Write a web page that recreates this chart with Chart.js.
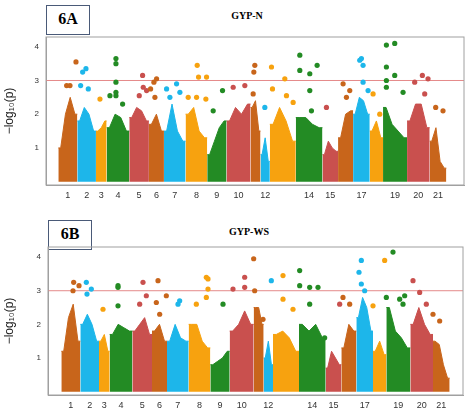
<!DOCTYPE html>
<html><head><meta charset="utf-8">
<script src="https://cdn.jsdelivr.net/npm/chart.js@4.4.0/dist/chart.umd.min.js"></script>
<style>
body{margin:0;background:#fff;width:474px;height:417px;position:relative;overflow:hidden;font-family:"Liberation Serif",serif}
.box{position:absolute;border:1.5px solid #4a5a78;font-weight:bold;font-size:16px;text-align:center;box-sizing:border-box;line-height:26px}
.ttl{position:absolute;font-weight:bold;font-size:10px;width:474px;text-align:center}
.pane{position:absolute;left:0;width:474px;height:175px}
</style></head><body>
<div class="box" style="left:46px;top:5px;width:44px;height:30px">6A</div>
<div class="ttl" style="left:10px;top:10px">GYP-N</div>
<div class="box" style="left:48px;top:220px;width:44px;height:30px">6B</div>
<div class="ttl" style="left:12px;top:226px">GYP-WS</div>
<div class="pane" style="top:28px"><canvas id="a"></canvas></div>
<div class="pane" style="top:238px"><canvas id="b"></canvas></div>
<script>
// chromosome boundaries (genomic units)
const chrStarts = [175,232,288,320,388,447,492,557,622,680,752,782,810,888,968,1015,1060,1110,1150,1222,1290];
const chrEnd = 1340;
const chrNames = ["1","2","3","4","5","6","7","8","9","10","11","12","13","14","15","16","17","18","19","20","21"];
const shownLabels = ["1","2","3","4","5","6","7","8","9","10","12","14","15","17","19","20","21"];
const palette = ["#C8651B","#1DB6EA","#F7A20F","#238B24","#C9504E"];
const colorCycle = [0,1,2,3,4,0,1,2,3,4,0,1,2,3,4,0,1,2,3,4,0];
// dense band envelope heights per chromosome
const envA = [[1.0,2.0,2.5,2.0],[1.8,2.2,2.0,1.5],[1.5,1.6,1.8],[1.6,2.0,1.9,1.5],[1.9,2.2,2.1,1.8],[1.7,2.0,1.5],[1.5,2.3,1.5,1.2],[2.0,2.2,1.5,1.3],[0.8,1.2,1.6,1.8],[1.8,2.2,2.0,2.3],[2.2,2.4,1.5],[0.8,1.3,0.6],[1.7,2.2,1.8,1.2],[1.9,1.9,1.7,1.6],[0.8,1.2,1.0,0.9],[1.3,2.0,2.1],[2.0,2.5,2.4,2.0],[1.5,1.8,1.3],[2.2,1.7,1.5,1.3],[1.8,2.3,2.3,1.6],[1.2,1.6,0.6,0.4]];
const envB = [[1.2,2.2,2.6,1.5],[2.0,2.3,2.0,1.5],[1.5,1.7,1.2],[1.7,2.0,1.9,1.8],[1.8,2.0,2.2,1.7],[1.8,2.0,1.5],[1.5,2.0,1.6,1.5],[2.0,2.0,1.5,1.3],[0.8,0.9,1.0,1.2],[1.8,2.0,2.4,2.0],[2.5,2.5,2.0],[1.0,1.5,0.8],[1.7,1.8,1.6,1.2],[2.0,1.8,2.0,1.6],[0.7,1.2,1.0,0.8],[1.3,2.0,1.8],[2.2,2.8,2.5,1.8],[1.2,1.5,1.1],[2.5,1.8,1.6,1.3],[2.0,2.5,2.0,1.7],[1.5,1.4,0.8,0.4]];
// upper SNPs [position, -log10 p]
const snpA = [[200,2.85],[210,2.85],[228,3.55],[248,3.25],[258,3.35],[242,2.85],[265,2.75],[300,2.45],[330,2.55],[348,3.65],[348,3.5],[348,2.95],[348,2.65],[348,2.55],[368,2.3],[418,2.55],[428,3.15],[430,2.8],[440,2.7],[452,2.75],[462,2.95],[470,3.05],[465,2.5],[500,2.75],[530,2.9],[510,2.5],[540,2.65],[565,2.5],[592,3.45],[596,3.1],[620,3.1],[590,2.5],[618,2.45],[640,2.1],[668,2.7],[700,2.8],[735,2.85],[760,2.6],[762,3.25],[765,3.45],[795,2.2],[815,3.4],[818,2.75],[855,3.05],[860,2.55],[880,2.35],[900,3.75],[900,3.3],[930,3.2],[930,2.7],[952,3.45],[935,2.1],[980,2.2],[1030,2.9],[1040,2.5],[1050,2.7],[1085,3.65],[1080,3.6],[1090,3.45],[1090,2.95],[1105,2.7],[1120,2.6],[1140,2.0],[1160,4.05],[1185,4.1],[1160,3.4],[1185,3.15],[1160,3.0],[1160,2.8],[1210,2.65],[1245,2.95],[1268,3.15],[1285,3.05],[1275,2.6],[1308,2.2],[1330,2.1]];
const snpB = [[212,3.25],[228,3.15],[210,3.0],[250,3.25],[265,3.05],[252,2.9],[300,2.45],[345,3.15],[345,3.1],[345,2.55],[420,3.25],[430,2.85],[410,2.6],[465,3.3],[460,2.65],[470,2.3],[490,2.85],[530,2.7],[525,2.6],[580,2.6],[610,3.4],[615,3.35],[615,3.05],[610,2.8],[660,2.6],[690,3.05],[725,3.4],[725,3.1],[755,3.0],[752,3.95],[780,2.15],[805,3.3],[840,3.45],[840,2.75],[870,2.45],[890,3.6],[890,3.15],[920,3.1],[945,3.1],[920,2.6],[965,1.6],[1010,2.6],[1020,2.8],[1040,2.6],[1075,3.9],[1068,3.55],[1075,3.2],[1085,3.0],[1110,2.55],[1145,3.9],[1170,4.15],[1150,2.8],[1190,2.75],[1200,2.6],[1205,2.85],[1230,3.3],[1250,2.95],[1270,2.6],[1290,2.3],[1310,2.1]];
const yTicks = [1,2,3,4];
const threshold = 3;

function chrOf(x){let i=0;for(let k=0;k<chrStarts.length;k++){if(x>=chrStarts[k])i=k;}return i;}
function make(id, env, snps, xmin, xmax, ymax, yW, rPad){
  const ds=[];
  env.forEach((h,i)=>{
    const s=chrStarts[i], e=i<20?chrStarts[i+1]:chrEnd, L=e-s;
    const pts=[{x:s,y:h[0]}];
    h.forEach((v,j)=>pts.push({x:s+(j+0.5)/h.length*L,y:v}));
    pts.push({x:e,y:h[h.length-1]});
    const c=palette[colorCycle[i]];
    ds.push({type:'line',data:pts,borderColor:c,backgroundColor:c,fill:'origin',pointRadius:0,borderWidth:1,tension:0});
  });
  ds.push({type:'scatter',data:snps.map(p=>({x:p[0],y:p[1]})),pointRadius:2.6,borderWidth:0,
    backgroundColor:snps.map(p=>palette[colorCycle[chrOf(p[0])]])});
  ds.push({type:'line',data:[{x:xmin,y:threshold},{x:xmax,y:threshold}],borderColor:'#E58A8A',borderWidth:1,pointRadius:0,fill:false});
  const centers=chrStarts.map((s,i)=>(s+(i<20?chrStarts[i+1]:chrEnd))/2);
  new Chart(document.getElementById(id),{
    data:{datasets:ds},
    options:{responsive:true,maintainAspectRatio:false,animation:false,
      layout:{padding:{top:9,right:rPad,bottom:0,left:0}},
      plugins:{legend:{display:false},tooltip:{enabled:false}},
      scales:{
        x:{type:'linear',min:xmin,max:xmax,grid:{display:false,drawTicks:false},border:{color:'#a0a0a0',width:1},
          afterBuildTicks:ax=>{ax.ticks=centers.map((v,i)=>({value:v,label:chrNames[i]})).filter(t=>shownLabels.includes(t.label));},
          afterFit:ax=>{ax.height=18;},
          ticks:{autoSkip:false,maxRotation:0,font:{size:9,family:'Liberation Sans'},color:'#333',padding:5,callback:function(v){const i=centers.indexOf(v);return i>=0?chrNames[i]:'';}}},
        y:{min:-0.1,max:ymax,grid:{display:false,drawTicks:true,tickLength:3},border:{color:'#a0a0a0',width:1},
          afterBuildTicks:ax=>{ax.ticks=yTicks.map(v=>({value:v}));},
          afterFit:ax=>{ax.width=yW;},
          ticks:{font:{size:8,family:'Liberation Sans'},color:'#333',padding:4},
          title:{display:true,text:'−log₁₀(p)',font:{size:12,family:'Liberation Sans'},color:'#222',padding:2}},
      }
    },
    plugins:[{id:'frame',afterDraw(c){const a=c.chartArea,g=c.ctx;g.save();g.strokeStyle='#a0a0a0';g.lineWidth=1;g.strokeRect(a.left,a.top,a.right-a.left,a.bottom-a.top);g.restore();}}]
  });
}
make('a',envA,snpA,138,1393,4.29,46,10);
make('b',envB,snpB,135,1380,4.3,48,11);
</script></body></html>
